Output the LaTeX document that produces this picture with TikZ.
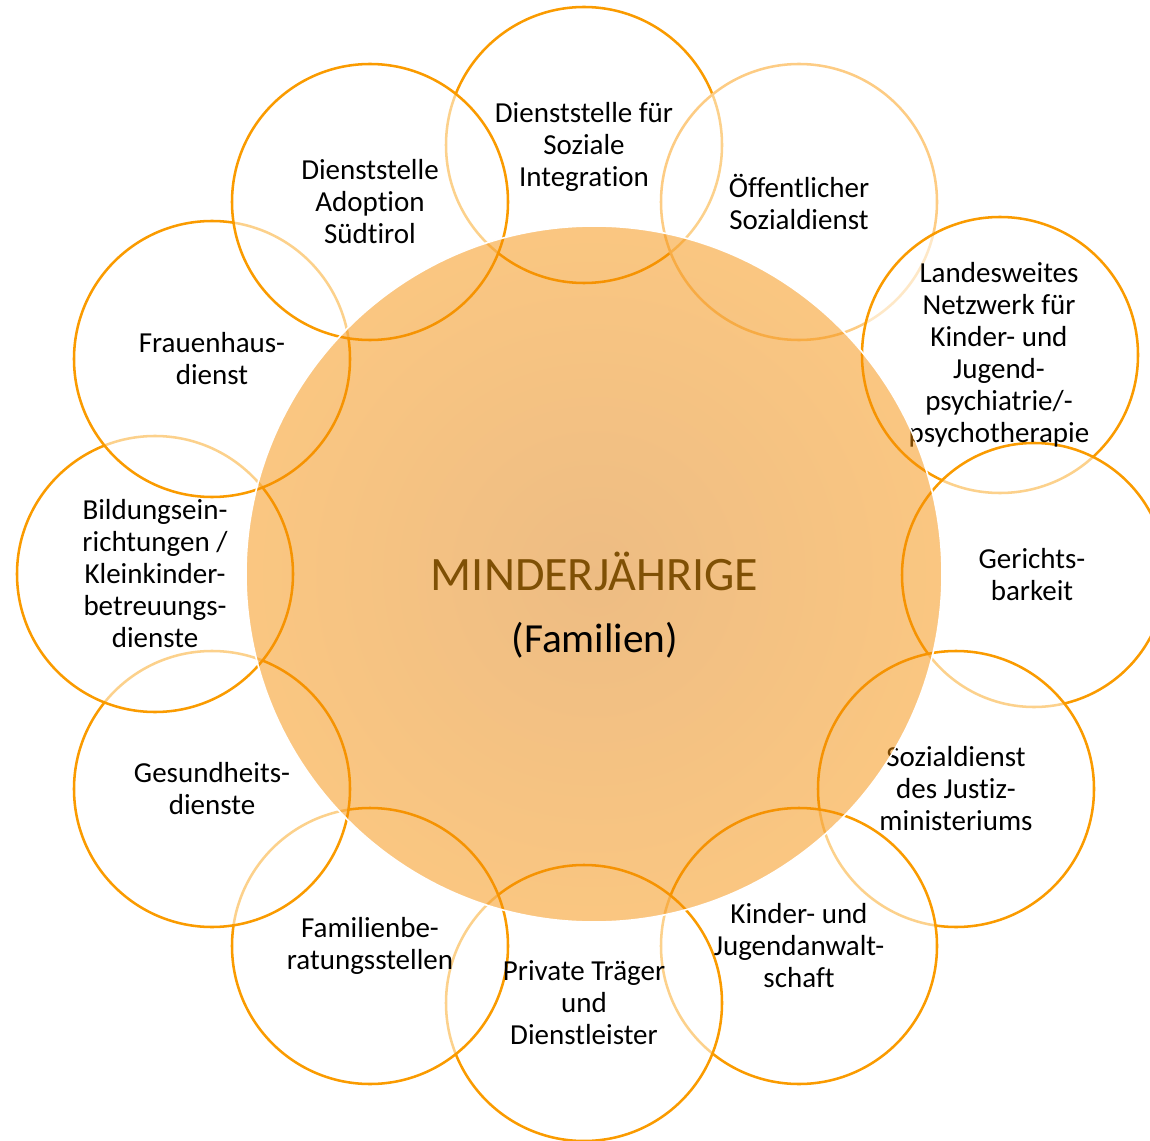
\documentclass[tikz,border=0pt]{standalone}
\usepackage{fontspec}
\setmainfont{Carlito}[Ligatures=NoCommon]
\definecolor{ringdark}{RGB}{250,155,0}
\definecolor{ringlight}{RGB}{253,204,132}
\definecolor{ctrin}{RGB}{220,122,8}
\definecolor{ctrout}{RGB}{255,150,4}
\definecolor{minbrown}{RGB}{127,80,5}
\pgfdeclareradialshading{ctrshade}{\pgfpoint{0bp}{0bp}}{color(0bp)=(ctrin); color(34bp)=(ctrout); color(50bp)=(ctrout)}
\tikzset{
  ring/.style={circle, draw=ringdark, line width=1.9pt, fill=white, fill opacity=0.55, draw opacity=1, minimum size=207pt, inner sep=0pt, outer sep=0pt},
  ringpale/.style={ring, draw=ringlight},
  ringtext/.style={align=center, font=\fontsize{21.75pt}{24pt}\selectfont, text=black, inner sep=0pt},
  centre/.style={circle, minimum size=522pt, inner sep=0pt, shade, shading=ctrshade, fill opacity=0.5, draw=white, draw opacity=1, line width=1.2pt}
}
\begin{document}
\begin{tikzpicture}[x=0.75pt, y=-0.75pt]
\useasboundingbox (0,0) rectangle (1150,1141);
% outer rings, drawn in order so later rings veil earlier ones
\node[ring]     (c1)  at (584,145)  {};
\node[ringpale] (c2)  at (799,202)  {};
\node[ring]     (c3)  at (1000,355) {};
\node[ring, minimum size=198pt] (c4) at (1034,575) {};
\node[ring]     (c5)  at (956,789)  {};
\node[ring]     (c6)  at (799,946)  {};
\node[ring]     (c7)  at (584,1003) {};
\node[ring]     (c8)  at (370,946)  {};
\node[ring]     (c9)  at (212,789)  {};
\node[ring]     (c10) at (155,574)  {};
\node[ring]     (c11) at (212,359)  {};
\node[ring]     (c12) at (370,202)  {};
% labels of the rings
\node[ringtext] (t1)  at (584,147)  {Dienststelle für\\Soziale\\Integration};
\node[ringtext] (t2)  at (799,202)  {Öffentlicher\\Sozialdienst};
\node[ringtext] (t3)  at (999,355)  {Landesweites\\Netzwerk für\\Kinder- und\\Jugend-\\psychiatrie/-\\psychotherapie};
\node[ringtext] (t4)  at (1032,575) {Gerichts-\\barkeit};
\node[ringtext] (t5)  at (956,789)  {Sozialdienst\\des Justiz-\\ministeriums};
\node[ringtext] (t6)  at (799,946)  {Kinder- und\\Jugendanwalt-\\schaft};
\node[ringtext] (t7)  at (584,1003) {Private Träger\\und\\Dienstleister};
\node[ringtext] (t8)  at (370,946)  {Familienbe-\\ratungsstellen};
\node[ringtext] (t9)  at (212,789)  {Gesundheits-\\dienste};
\node[ringtext] (t10) at (155,574)  {Bildungsein-\\richtungen /\\Kleinkinder-\\betreuungs-\\dienste};
\node[ringtext] (t11) at (212,359)  {Frauenhaus-\\dienst};
\node[ringtext] (t12) at (370,202)  {Dienststelle\\Adoption\\Südtirol};
% central circle on top, semi-transparent
\node[centre] (ctr) at (594,574) {};
\node[anchor=base, inner sep=0pt, text=minbrown, font=\fontsize{36pt}{40pt}\selectfont] (m1) at (594.5,590) {MINDERJÄHRIGE};
\node[anchor=base, inner sep=0pt, text=black, font=\fontsize{31pt}{35pt}\selectfont] (m2) at (595,652) {(Familien)};
\end{tikzpicture}
\end{document}
